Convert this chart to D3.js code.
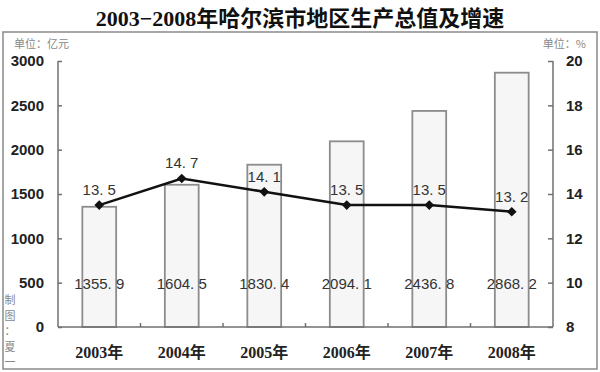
<!DOCTYPE html>
<html>
<head>
<meta charset="utf-8">
<script src="https://cdn.jsdelivr.net/npm/d3@7"></script>
<style>
  body { margin: 0; background: #fff; }
  svg { display: block; }
</style>
</head>
<body>
<div id="chart"></div>
<script>
// data
const years = ["2003年", "2004年", "2005年", "2006年", "2007年", "2008年"];
const gdp = [1355.9, 1604.5, 1830.4, 2094.1, 2436.8, 2868.2];
const growth = [13.5, 14.7, 14.1, 13.5, 13.5, 13.2];
const leftTicks = [0, 500, 1000, 1500, 2000, 2500, 3000];
const rightTicks = [8, 10, 12, 14, 16, 18, 20];

const W = 600, H = 372;
const margin = { top: 61, right: 47, bottom: 45, left: 58 };
const width = W - margin.left - margin.right;
const height = H - margin.top - margin.bottom;

const svg = d3.select("#chart").append("svg")
    .attr("width", W)
    .attr("height", H);

// outer frame
svg.append("rect")
    .attr("x", 3).attr("y", 32)
    .attr("width", 594).attr("height", 337)
    .attr("fill", "none")
    .attr("stroke", "#8a8a8a")
    .attr("stroke-width", 1.5);

// title
svg.append("text")
    .attr("x", W / 2).attr("y", 26)
    .attr("text-anchor", "middle")
    .style("font-family", "'Liberation Serif', 'Noto Sans CJK SC'")
    .style("font-weight", "bold")
    .style("font-size", "22px")
    .attr("fill", "#111")
    .text("2003−2008年哈尔滨市地区生产总值及增速");

// unit labels
svg.append("text")
    .attr("x", 14).attr("y", 48)
    .style("font-family", "'Noto Sans CJK SC'")
    .style("font-size", "11px")
    .attr("fill", "#888")
    .text("单位：亿元");
svg.append("text")
    .attr("x", 586).attr("y", 48)
    .attr("text-anchor", "end")
    .style("font-family", "'Noto Sans CJK SC'")
    .style("font-size", "11px")
    .attr("fill", "#888")
    .text("单位：%");

// vertical credit
const credit = svg.append("text")
    .style("font-family", "'Noto Sans CJK SC'")
    .style("font-size", "11px")
    .attr("fill", "#888")
    .attr("text-anchor", "middle");
Array.from("制图：夏一").forEach((ch, i) => {
    credit.append("tspan")
        .attr("x", 10)
        .attr("y", 304 + i * 15.5)
        .text(ch);
});

const g = svg.append("g")
    .attr("transform", "translate(" + margin.left + "," + margin.top + ")");

const x = d3.scaleBand()
    .domain(years)
    .range([0, width])
    .paddingInner(0.59)
    .paddingOuter(0.295);

const yL = d3.scaleLinear().domain([0, 3000]).range([height, 0]);
const yR = d3.scaleLinear().domain([8, 20]).range([height, 0]);

const axisColor = "#707070";

// bars
g.selectAll(".bar")
    .data(gdp)
    .enter()
    .append("rect")
    .attr("class", "bar")
    .attr("x", (d, i) => x(years[i]))
    .attr("y", d => yL(d))
    .attr("width", x.bandwidth())
    .attr("height", d => height - yL(d))
    .attr("fill", "#f6f6f6")
    .attr("stroke", "#8c8c8c")
    .attr("stroke-width", 1.8);

// left axis
const leftAxis = g.append("g")
    .call(d3.axisLeft(yL).tickValues(leftTicks).tickFormat(d3.format("d")).tickSize(-4).tickPadding(14));
leftAxis.selectAll("path, line").attr("stroke", axisColor).attr("stroke-width", 1.5);
leftAxis.select(".domain").attr("d", "M0,0V" + height);
leftAxis.selectAll("text")
    .style("font-family", "'Liberation Sans', Arial")
    .style("font-weight", "bold")
    .style("font-size", "15px")
    .attr("fill", "#222");

// right axis
const rightAxis = g.append("g")
    .attr("transform", "translate(" + width + ",0)")
    .call(d3.axisRight(yR).tickValues(rightTicks).tickSize(-5).tickPadding(13));
rightAxis.selectAll("path, line").attr("stroke", axisColor).attr("stroke-width", 1.5);
rightAxis.select(".domain").attr("d", "M0,0V" + height);
rightAxis.selectAll("text")
    .style("font-family", "'Liberation Sans', Arial")
    .style("font-weight", "bold")
    .style("font-size", "15px")
    .attr("fill", "#222");

// bottom axis with ticks between categories
const bottom = g.append("g")
    .attr("transform", "translate(0," + height + ")");
bottom.append("line")
    .attr("x1", 0).attr("x2", width)
    .attr("stroke", axisColor).attr("stroke-width", 1.5);
bottom.selectAll(".sep")
    .data(years.slice(1))
    .enter()
    .append("line")
    .attr("class", "sep")
    .attr("x1", d => x(d) - x.step() * x.paddingInner() / 2)
    .attr("x2", d => x(d) - x.step() * x.paddingInner() / 2)
    .attr("y1", 0).attr("y2", -4)
    .attr("stroke", axisColor).attr("stroke-width", 1.5);
bottom.selectAll(".cat")
    .data(years)
    .enter()
    .append("text")
    .attr("class", "cat")
    .attr("x", d => x(d) + x.bandwidth() / 2)
    .attr("y", 31)
    .attr("text-anchor", "middle")
    .style("font-family", "'Liberation Serif', 'Noto Sans CJK SC'")
    .style("font-weight", "bold")
    .style("font-size", "16px")
    .attr("fill", "#222")
    .text(d => d);

// bar value labels
const fmt = d3.format(".1f");
const labelFont = "'Liberation Sans', 'Noto Sans CJK SC'";
g.selectAll(".vlabel")
    .data(gdp)
    .enter()
    .append("text")
    .attr("class", "vlabel")
    .attr("x", (d, i) => x(years[i]) + x.bandwidth() / 2)
    .attr("y", yL(500) + 6)
    .attr("text-anchor", "middle")
    .style("font-family", labelFont)
    .style("font-size", "15px")
    .attr("fill", "#333")
    .text(d => fmt(d).replace(".", ". "));

// growth line
const line = d3.line()
    .x((d, i) => x(years[i]) + x.bandwidth() / 2)
    .y(d => yR(d));

g.append("path")
    .datum(growth)
    .attr("d", line)
    .attr("fill", "none")
    .attr("stroke", "#111")
    .attr("stroke-width", 2.5);

g.selectAll(".pt")
    .data(growth)
    .enter()
    .append("path")
    .attr("class", "pt")
    .attr("transform", (d, i) => "translate(" + (x(years[i]) + x.bandwidth() / 2) + "," + yR(d) + ")")
    .attr("d", d3.symbol(d3.symbolDiamond2, 60))
    .attr("fill", "#111");

g.selectAll(".glabel")
    .data(growth)
    .enter()
    .append("text")
    .attr("class", "glabel")
    .attr("x", (d, i) => x(years[i]) + x.bandwidth() / 2)
    .attr("y", d => yR(d) - 10)
    .attr("text-anchor", "middle")
    .style("font-family", labelFont)
    .style("font-size", "15px")
    .attr("fill", "#333")
    .text(d => fmt(d).replace(".", ". "));
</script>
</body>
</html>
